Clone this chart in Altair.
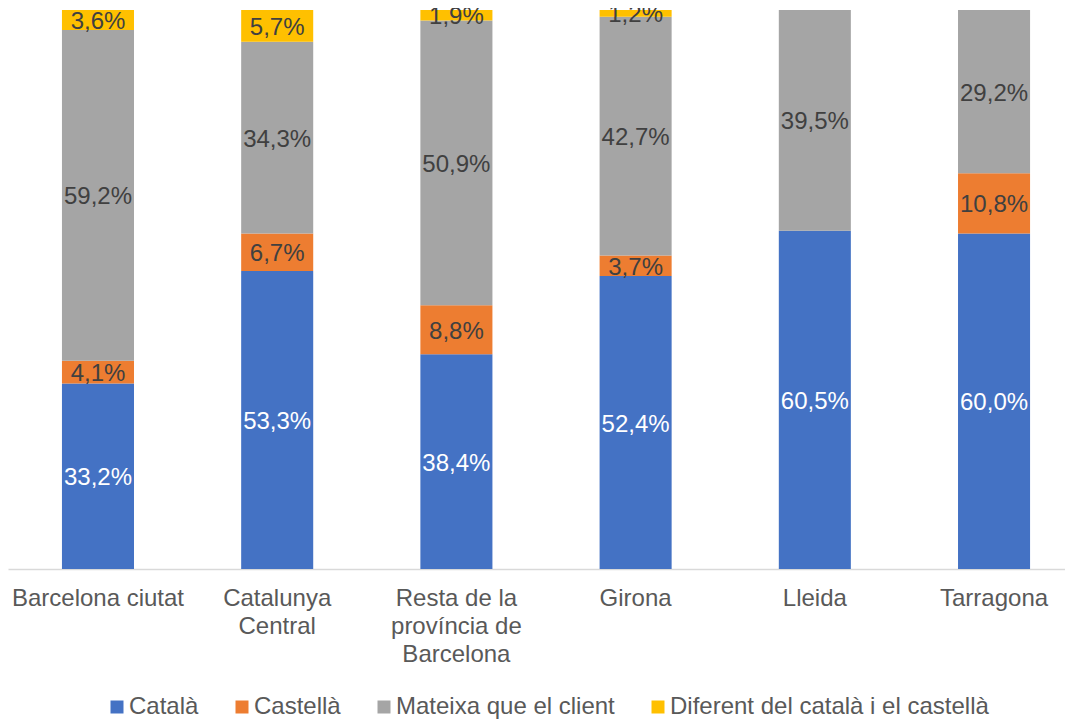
import altair as alt
import pandas as pd

categories = ["Barcelona ciutat", "Catalunya Central", "Resta de la província de Barcelona",
              "Girona", "Lleida", "Tarragona"]
series = ["Català", "Castellà", "Mateixa que el client", "Diferent del català i el castellà"]
colors = ["#4472C4", "#ED7D31", "#A5A5A5", "#FFC000"]

catala = [33.2, 53.3, 38.4, 52.4, 60.5, 60.0]
castella = [4.1, 6.7, 8.8, 3.7, 0.0, 10.8]
mateixa = [59.2, 34.3, 50.9, 42.7, 39.5, 29.2]
diferent = [3.6, 5.7, 1.9, 1.2, 0.0, 0.0]

values = [catala, castella, mateixa, diferent]
rows = []
for si, (s, vals) in enumerate(zip(series, values)):
    for c, v in zip(categories, vals):
        rows.append({"cat": c, "series": s, "order": si, "value": v,
                     "label": f"{v:.1f}".replace(".", ",") + "%"})
df = pd.DataFrame(rows)

FONT = "Liberation Sans"

label_expr = ("datum.value == 'Resta de la província de Barcelona' ? ['Resta de la', 'província de', 'Barcelona'] : "
              "datum.value == 'Catalunya Central' ? ['Catalunya', 'Central'] : datum.value")

xenc = alt.X("cat:N", sort=categories, title=None,
             scale=alt.Scale(paddingInner=0.598, paddingOuter=0.248, align=0.607),
             axis=alt.Axis(labelAngle=0, labelFont=FONT, labelFontSize=24, labelColor="#595959",
                           labelPadding=17, labelLineHeight=28, ticks=False,
                           domainColor="#D9D9D9", domainWidth=1.3, labelExpr=label_expr,
                           labelLimit=0))

base = alt.Chart(df).transform_stack(
    stack="value", groupby=["cat"], as_=["v0", "v1"], offset="normalize",
    sort=[alt.SortField("order", order="ascending")]
).transform_calculate(mid="(datum.v0 + datum.v1) / 2")

bars = base.mark_bar().encode(
    x=xenc,
    y=alt.Y("v0:Q", scale=alt.Scale(domain=[0, 1], nice=False), axis=None),
    y2="v1:Q",
    color=alt.Color("series:N", scale=alt.Scale(domain=series, range=colors),
                    legend=alt.Legend(title=None, orient="none", legendX=97, legendY=685,
                                      direction="horizontal", columns=4, symbolType="square",
                                      symbolSize=169, symbolStrokeWidth=0, labelFont=FONT,
                                      labelFontSize=24, labelColor="#595959", columnPadding=31,
                                      labelOffset=0, labelLimit=0)),
    order=alt.Order("order:Q"),
)

text = base.transform_filter("datum.value > 0").mark_text(
    font=FONT, fontSize=24, baseline="middle", align="center", dy=2
).encode(
    x=alt.X("cat:N", sort=categories),
    y=alt.Y("mid:Q"),
    text="label:N",
    color=alt.condition("datum.series == 'Català'", alt.value("#FFFFFF"), alt.value("#404040")),
)

chart = alt.layer(bars, text).properties(
    width=1057, height=559,
    autosize=alt.AutoSizeParams(type="none"),
    padding={"left": 0, "top": 2, "right": 0, "bottom": 151},
).configure(background="white").configure_view(stroke=None)

chart.save("out.html", embed_options={"renderer": "svg", "actions": False})
